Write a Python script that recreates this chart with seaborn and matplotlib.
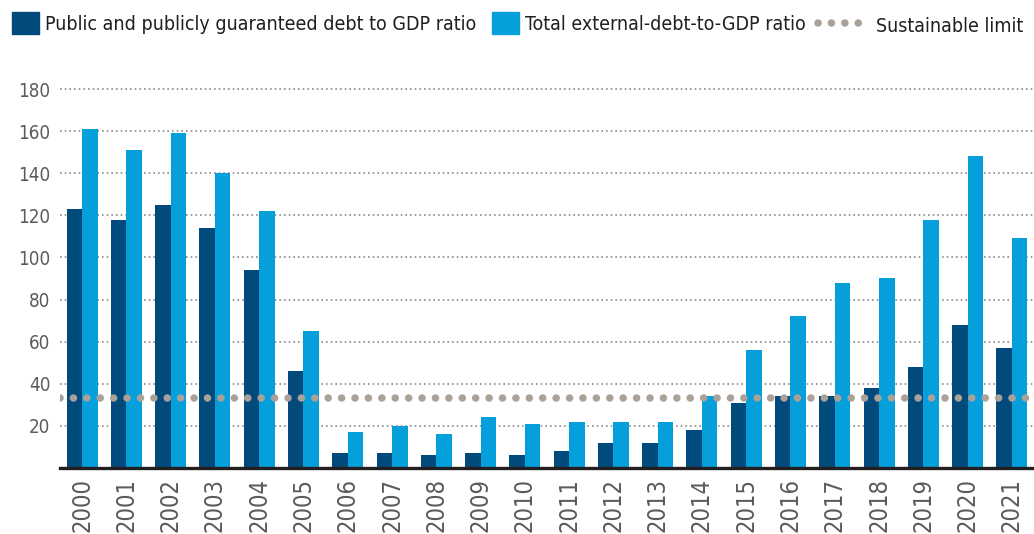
import numpy as np
import pandas as pd
import matplotlib.pyplot as plt
from matplotlib import font_manager
from matplotlib.patches import Rectangle
from matplotlib.lines import Line2D
import seaborn as sns

years = [str(y) for y in range(2000, 2022)]
ppg_debt = [123, 118, 125, 114, 94, 46, 7, 7, 6, 7, 6, 8, 12, 12, 18, 31, 34, 34, 38, 48, 68, 57]
external_debt = [161, 151, 159, 140, 122, 65, 17, 20, 16, 24, 21, 22, 22, 22, 34, 56, 72, 88, 90, 118, 148, 109]
sustainable_limit = 33

ppg_label = "Public and publicly guaranteed debt to GDP ratio"
ext_label = "Total external-debt-to-GDP ratio"
limit_label = "Sustainable limit"

dark_blue = "#004b7c"
light_blue = "#059fdb"
limit_grey = "#aaa199"
text_grey = "#5a5b5d"

df = pd.DataFrame({
    "year": years * 2,
    "value": ppg_debt + external_debt,
    "series": [ppg_label] * len(years) + [ext_label] * len(years),
})

# look for a narrow font, the reference uses a condensed face
narrow = [f for f in font_manager.fontManager.ttflist
          if ("Narrow" in f.name or "Condensed" in f.name
              or f.stretch in ("condensed", "semi-condensed"))
          and f.weight in (400, "normal", "regular")
          and f.style == "normal"]
sns.set_style("white")
if narrow:
    plt.rcParams["font.family"] = [narrow[0].name, "DejaVu Sans"]
    plt.rcParams["font.stretch"] = narrow[0].stretch
    scale = 1.0
else:
    plt.rcParams["font.family"] = ["Roboto", "DejaVu Sans"]
    scale = 0.9

fig = plt.figure(figsize=(10.34, 5.34), dpi=100)
ax = fig.add_axes([0.058, 0.124, 0.942, 0.713])

sns.barplot(
    data=df, x="year", y="value", hue="series",
    palette=[dark_blue, light_blue], width=0.7, gap=0, linewidth=0,
    saturation=1, ax=ax, legend=False, zorder=2,
)

# round dots, ~13 px apart
dot_lw = 5.4
dots = (0, (0.01, 9.6 / dot_lw))
ax.axhline(sustainable_limit, color=limit_grey, lw=dot_lw,
           linestyle=dots, dash_capstyle="round", zorder=3)

ax.set_xlim(-0.5, 21.5)
ax.set_ylim(0, 181)
ax.set_yticks(range(20, 181, 20))
ax.yaxis.grid(True, linestyle=(0, (1, 1.8)), color="#8c8c8c", lw=1.2)
ax.set_axisbelow(True)
ax.set_xlabel("")
ax.set_ylabel("")
ax.tick_params(axis="y", length=0, labelsize=13.5 * scale, labelcolor=text_grey, pad=7)
ax.tick_params(axis="x", length=0, labelsize=17 * scale, labelcolor=text_grey,
               rotation=90, pad=7)

for side in ["top", "right", "left"]:
    ax.spines[side].set_visible(False)
ax.spines["bottom"].set_color("#231f20")
ax.spines["bottom"].set_linewidth(2.4)

fs = 14 * scale
em = fs * 100 / 72

# two bar series legend
leg1 = fig.legend(
    [Rectangle((0, 0), 1, 1, color=dark_blue), Rectangle((0, 0), 1, 1, color=light_blue)],
    [ppg_label, ext_label],
    loc="upper left", bbox_to_anchor=(12 / 1034, 1 - 12 / 534), ncol=2,
    frameon=False, fontsize=fs, handlelength=27 / em, handleheight=27 / em,
    handletextpad=6 / em, columnspacing=16 / em, borderpad=0, borderaxespad=0,
    labelcolor="#231f20",
)

# sustainable limit legend
fig.legend(
    [Line2D([], [], color=limit_grey, lw=dot_lw, linestyle=dots, dash_capstyle="round")],
    [limit_label],
    loc="upper left", bbox_to_anchor=(818 / 1034, 1 - 14 / 534),
    frameon=False, fontsize=fs, handlelength=41 / em, handleheight=27 / em,
    handletextpad=17 / em, borderpad=0, borderaxespad=0,
    labelcolor="#231f20",
)

fig.savefig("out.png", dpi=100)
